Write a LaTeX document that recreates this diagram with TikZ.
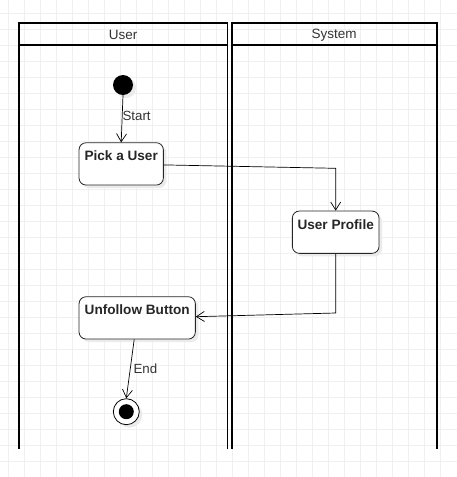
\documentclass[tikz,border=0pt]{standalone}
\usepackage{fontspec}
\setmainfont{Liberation Sans}
\usetikzlibrary{arrows.meta,calc}
\begin{document}
\begin{tikzpicture}[x=1pt,y=-1pt,
  lane/.style={draw=black,line width=1.6pt},
  lanetext/.style={font=\fontsize{13.5}{15}\selectfont,text=black!80},
  box/.style={draw=black!85,line width=0.8pt,rounded corners=7pt,fill=white,inner sep=0pt},
  boxtext/.style={font=\bfseries\fontsize{13.6}{15}\selectfont,text=black!85,anchor=north,inner sep=0pt,yshift=-8.3pt},
  flow/.style={draw=black,line width=0.7pt,-{Straight Barb[length=8pt,width=10pt,line width=0.7pt]}},
  elabel/.style={font=\fontsize{13.3}{15}\selectfont,text=black!80,anchor=west,inner sep=0pt},
  shade/.style={fill=black!8,draw=none}]
\useasboundingbox (0,0) rectangle (457,477);
\fill[white] (0,0) rectangle (457,477);
% grid
\foreach \gx in {8.7,24.7,...,456} \draw[black!6,line width=0.6pt] (\gx,0) -- (\gx,477);
\foreach \gy in {13.3,29.3,...,476} \draw[black!6,line width=0.6pt] (0,\gy) -- (457,\gy);
% lanes (open at the bottom)
\draw[lane] (19,449) -- (19,23) -- (227.3,23) -- (227.3,449);
\draw[lane] (19,45) -- (227.3,45);
\node[lanetext] (userhead) at (123.2,35) {User};
\draw[lane] (231.7,449) -- (231.7,23) -- (436.7,23) -- (436.7,449);
\draw[lane] (231.7,45) -- (436.7,45);
\node[lanetext] (syshead) at (334.2,35) {System};
% shadows
\fill[shade,rounded corners=7pt] (82,145.7) rectangle (166.3,188);
\fill[shade,rounded corners=7pt] (295.3,214) rectangle (382,256.3);
\fill[shade,rounded corners=7pt] (82,299.7) rectangle (198.3,342);
\fill[shade] (126,88) circle (10);
\fill[shade] (129.3,414.7) circle (13);
% start
\node[circle,fill=black,minimum size=20pt,inner sep=0pt] (start) at (123,85) {};
% boxes
\node[box,minimum width=84.3pt,minimum height=42.3pt,label={[boxtext]north:Pick a User}] (pick) at (121.2,163.9) {};
\node[box,minimum width=86.7pt,minimum height=42.3pt,label={[boxtext]north:User Profile}] (profile) at (335.7,232.2) {};
\node[box,minimum width=116.3pt,minimum height=42.3pt,label={[boxtext]north:Unfollow Button}] (unfollow) at (137.2,317.9) {};
% end
\node[circle,draw=black,line width=0.8pt,fill=white,minimum size=26pt,inner sep=0pt] (end) at (126.3,411.7) {};
\node[circle,fill=black,minimum size=15pt,inner sep=0pt] (endin) at (end.center) {};
% connectors
\draw[flow] (start.south) -- node[elabel,pos=0.45] (startlbl) {Start} (pick.north);
\coordinate (b1) at (335.7,168.3);
\draw[flow] ($(pick.east)+(0,1)$) -- (b1) -- (profile.north);
\coordinate (b2) at (335.7,313);
\draw[flow] (profile.south) -- (b2) -- ($(unfollow.east)+(0,-1.2)$);
\draw[flow] ($(unfollow.south)+(-3,0)$) -- node[elabel,pos=0.5,xshift=3pt] (endlbl) {End} (end.north);
\end{tikzpicture}
\end{document}
